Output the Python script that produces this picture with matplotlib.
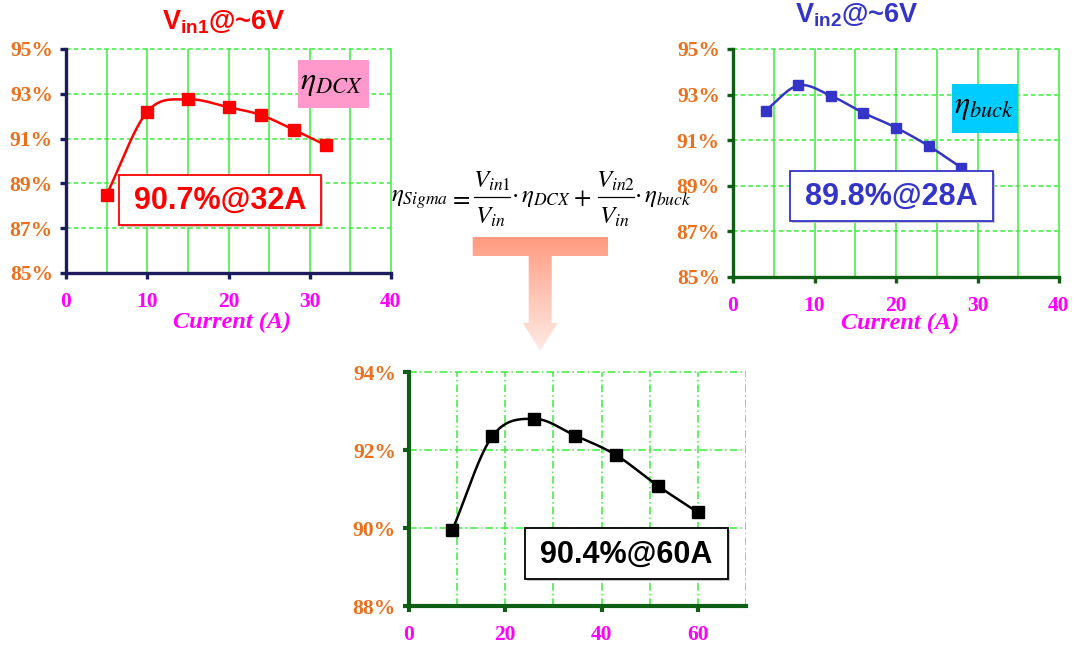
import numpy as np
import matplotlib
matplotlib.use("Agg")
import matplotlib.pyplot as plt
from matplotlib.patches import Rectangle, Polygon
from matplotlib.lines import Line2D
from matplotlib.ticker import MultipleLocator, FuncFormatter
from matplotlib.colors import LinearSegmentedColormap

# DCX stage efficiency, Vin1 ~ 6 V
dcx_current = [5, 10, 15, 20, 24, 28, 32]
dcx_eff = [88.5, 92.2, 92.75, 92.4, 92.05, 91.4, 90.7]

# Buck stage efficiency, Vin2 ~ 6 V
buck_current = [4, 8, 12, 16, 20, 24, 28]
buck_eff = [92.3, 93.4, 92.95, 92.2, 91.55, 90.75, 89.8]

# Combined (Sigma) converter efficiency
total_current = [9, 17.3, 26, 34.5, 43, 51.7, 60]
total_eff = [89.95, 92.35, 92.8, 92.37, 91.87, 91.08, 90.4]

ORANGE = "#ec6f1c"
MAGENTA = "#ff00ff"
GRID = "#3cec3c"
NAVY = "#1c1c5c"
DKGREEN = "#0e5e14"
RED = "#ff0000"
BLUE = "#3434c8"

plt.rcParams["font.family"] = ["Liberation Serif", "DejaVu Serif"]
plt.rcParams["mathtext.fontset"] = "custom"
plt.rcParams["mathtext.bf"] = "Liberation Sans:bold"
plt.rcParams["mathtext.rm"] = "Liberation Sans"
plt.rcParams["mathtext.it"] = "Liberation Sans:italic"

W, H = 1075, 647
fig = plt.figure(figsize=(W / 100, H / 100), dpi=100)


def px_axes(left, top, right, bottom):
    return fig.add_axes([left / W, 1 - bottom / H, (right - left) / W, (bottom - top) / H])


def smooth(x, y, n=40):
    """Catmull-Rom curve through the given points."""
    x = np.asarray(x, float)
    y = np.asarray(y, float)
    px = np.concatenate([[2 * x[0] - x[1]], x, [2 * x[-1] - x[-2]]])
    py = np.concatenate([[2 * y[0] - y[1]], y, [2 * y[-1] - y[-2]]])
    t = np.linspace(0, 1, n)
    xs, ys = [], []
    for i in range(1, len(px) - 2):
        for arr, out in ((px, xs), (py, ys)):
            p0, p1, p2, p3 = arr[i - 1], arr[i], arr[i + 1], arr[i + 2]
            out.append(0.5 * (2 * p1 + (-p0 + p2) * t
                              + (2 * p0 - 5 * p1 + 4 * p2 - p3) * t ** 2
                              + (-p0 + 3 * p1 - 3 * p2 + p3) * t ** 3))
    return np.concatenate(xs), np.concatenate(ys)


def style_axes(ax, spine_color, spine_w, xmax, xmajor, xminor, ylo, yhi,
               xgrid_ls, ygrid_ls):
    ax.set_xlim(0, xmax)
    ax.set_ylim(ylo, yhi)
    for s in ("top", "right"):
        ax.spines[s].set_visible(False)
    for s in ("left", "bottom"):
        ax.spines[s].set_color(spine_color)
        ax.spines[s].set_linewidth(spine_w)
    ax.xaxis.set_major_locator(MultipleLocator(xmajor))
    ax.xaxis.set_minor_locator(MultipleLocator(xminor))
    ax.set_yticks(np.arange(ylo, yhi + 0.5, 2))
    ax.yaxis.set_major_formatter(FuncFormatter(lambda v, p: f"{v:.0f}%"))
    ax.set_axisbelow(True)
    ax.grid(True, axis="x", which="both", color=GRID, ls=xgrid_ls, lw=1.1)
    ax.grid(True, axis="y", which="major", color=GRID, ls=ygrid_ls, lw=1.1)
    ax.tick_params(which="minor", length=0)
    ax.tick_params(which="major", direction="out", length=4,
                   width=spine_w, color=spine_color)
    ax.tick_params(axis="x", pad=9.5, labelcolor=MAGENTA, labelsize=15.5)
    ax.tick_params(axis="y", pad=5.5, labelcolor=ORANGE, labelsize=15.5)
    for lbl in ax.get_xticklabels() + ax.get_yticklabels():
        lbl.set_fontweight("bold")
    for gl in ax.get_xgridlines() + ax.get_ygridlines():
        gl.set_clip_on(False)


# --- DCX panel ---
ax1 = px_axes(66, 49, 391, 273)
sx, sy = smooth(dcx_current, dcx_eff)
ax1.plot(sx, sy, color=RED, lw=1.8, zorder=3)
ax1.plot(dcx_current, dcx_eff, ls="none", marker="s", ms=8, color=RED, zorder=4, clip_on=False)
style_axes(ax1, NAVY, 2.4, 40, 10, 5, 85, 95, "-", (0, (3, 2)))

# --- Buck panel ---
ax2 = px_axes(733, 49, 1059, 277)
sx, sy = smooth(buck_current, buck_eff)
ax2.plot(sx, sy, color=BLUE, lw=1.8, zorder=3)
ax2.plot(buck_current, buck_eff, ls="none", marker="s", ms=7.5, color=BLUE, zorder=4, clip_on=False)
style_axes(ax2, DKGREEN, 2.4, 40, 10, 5, 85, 95, "-", (0, (3, 2)))

# --- Combined panel ---
ax3 = px_axes(409, 372, 746, 606)
sx, sy = smooth(total_current, total_eff)
ax3.plot(sx, sy, color="black", lw=1.8, zorder=3)
ax3.plot(total_current, total_eff, ls="none", marker="s", ms=8, color="black", zorder=4, clip_on=False)
style_axes(ax3, DKGREEN, 3.0, 70, 20, 10, 88, 94, (0, (5, 2, 1, 2)), (0, (5, 2, 1, 2)))

# --- annotations layer in pixel coordinates ---
ov = fig.add_axes([0, 0, 1, 1], zorder=10)
ov.axis("off")

sans = dict(family="Liberation Sans", weight="bold")
ov.text(224, 22, r"V$_{\mathbf{in1}}$@~6V", color=RED, fontsize=19.5,
        ha="center", va="center", **sans)
ov.text(857, 15, r"V$_{\mathbf{in2}}$@~6V", color=BLUE, fontsize=19.5,
        ha="center", va="center", **sans)

ital = dict(family="Liberation Serif", weight="bold", style="italic")
ov.text(232, 322, "Current (A)", color=MAGENTA, fontsize=17.5, ha="center", va="center", **ital)
ov.text(900, 323, "Current (A)", color=MAGENTA, fontsize=17.5, ha="center", va="center", **ital)

# stage symbols
math_kw = dict(math_fontfamily="stix", color="black")
ov.add_patch(Rectangle((298, 60), 71, 48, facecolor="#ff99cc", edgecolor="none"))
ov.text(331, 84, r"$\eta_{DCX}$", fontsize=23, ha="center", va="center", **math_kw)
ov.add_patch(Rectangle((952, 84), 66, 49, facecolor="#00ccff", edgecolor="none"))
ov.text(984, 108, r"$\eta_{buck}$", fontsize=23, ha="center", va="center", **math_kw)

# peak-load callouts
callouts = [
    ((119, 175, 202, 50), f"{dcx_eff[-1]:.1f}%@{dcx_current[-1]}A", RED),
    ((790, 171, 203, 50), f"{buck_eff[-1]:.1f}%@{buck_current[-1]}A", BLUE),
    ((525, 528, 203, 51), f"{total_eff[-1]:.1f}%@{total_current[-1]}A", "black"),
]
for (x0, y0, w, h), label, col in callouts:
    ov.add_patch(Rectangle((x0 + 2, y0 + 2), w, h, facecolor="#c8c8c8", edgecolor="none"))
    ov.add_patch(Rectangle((x0, y0), w, h, facecolor="white", edgecolor=col, lw=1.3))
    ov.text(x0 + w / 2, y0 + h / 2 + 1, label, color=col, fontsize=22,
            ha="center", va="center", **sans)

# efficiency combination formula, laid out term by term
FS = 18
BASE = 202          # main baseline
BAR = 197           # fraction bar height
ov.text(391, BASE, r"$\eta_{Sigma}$", fontsize=FS, ha="left", va="baseline", **math_kw)
ov.text(460, BAR, r"$=$", fontsize=FS, ha="center", va="center_baseline", **math_kw)
for (bx0, bx1), num in (((474, 510), r"$V_{in1}$"), ((598, 634), r"$V_{in2}$")):
    cx = (bx0 + bx1) / 2
    ov.add_line(Line2D([bx0, bx1], [BAR, BAR], color="black", lw=0.9))
    ov.text(cx, 188, num, fontsize=FS, ha="center", va="baseline", **math_kw)
    ov.text(cx - 1.5, 224, r"$V_{in}$", fontsize=FS, ha="center", va="baseline", **math_kw)
ov.text(511, BASE, r"$\cdot\,\eta_{DCX}$", fontsize=FS, ha="left", va="baseline", **math_kw)
ov.text(582, BAR, r"$+$", fontsize=FS, ha="center", va="center_baseline", **math_kw)
ov.text(634, BASE, r"$\cdot\,\eta_{buck}$", fontsize=FS, ha="left", va="baseline", **math_kw)

# gradient T-arrow
verts = [(472.7, 237), (608, 237), (608, 256), (551.7, 256), (551.7, 323),
         (557.7, 323), (540.2, 350.7), (522.7, 323), (528.7, 323), (528.7, 256),
         (472.7, 256)]
arrow = Polygon(verts, closed=True, facecolor="none", edgecolor="none")
ov.add_patch(arrow)
cmap = LinearSegmentedColormap.from_list("fade", ["#ff9a80", "#ffc4b4", "#ffebe4"])
grad = np.linspace(0, 1, 256).reshape(-1, 1)
im = ov.imshow(grad, cmap=cmap, extent=[472, 609, 351, 237], aspect="auto",
               origin="upper", interpolation="bilinear")
im.set_clip_path(arrow)

ov.set_xlim(0, W)
ov.set_ylim(H, 0)

fig.savefig("out.png", dpi=100)
